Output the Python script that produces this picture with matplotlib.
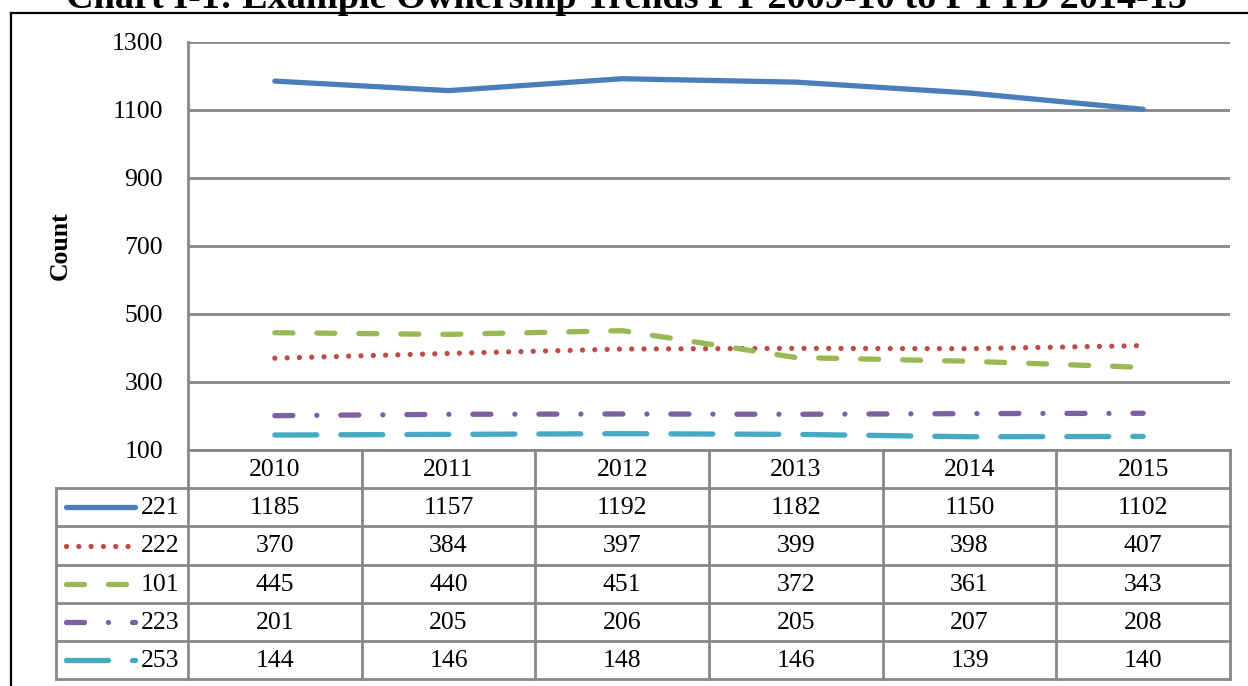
import matplotlib.pyplot as plt
from matplotlib.lines import Line2D

plt.rcParams['font.family'] = ['Liberation Serif', 'DejaVu Serif']

# data
years = ['2010', '2011', '2012', '2013', '2014', '2015']
series_names = ['221', '222', '101', '223', '253']
s221 = [1185, 1157, 1192, 1182, 1150, 1102]
s222 = [370, 384, 397, 399, 398, 407]
s101 = [445, 440, 451, 372, 361, 343]
s223 = [201, 205, 206, 205, 207, 208]
s253 = [144, 146, 148, 146, 139, 140]
all_series = [s221, s222, s101, s223, s253]

colors = ['#4A7EBB', '#BE4B48', '#98B954', '#7D60A0', '#46AAC5']
grid_col = '#888888'
LW = 3.8
lw_px = LW * 100 / 72
FS = 18.5


def pattern(px_list):
    # dash pattern given in pixels -> matplotlib units (scaled by lw)
    return (0, [p / lw_px for p in px_list])


styles = [
    '-',
    pattern([0.01, 12.3]),
    pattern([18.0, 24.0]),
    pattern([18.0, 24.0, 0.01, 24.0]),
    pattern([42.0, 24.0]),
]

W, H = 1248, 686


def fx(px):
    return px / W


def fy(py):
    return 1 - py / H


fig = plt.figure(figsize=(W / 100, H / 100), dpi=100)

# plot area
ax = fig.add_axes([fx(188), fy(450), fx(1230) - fx(188), fy(42) - fy(450)])
xs = list(range(1, len(years) + 1))
for vals, c, ls in zip(all_series, colors, styles):
    ax.plot(xs, vals, color=c, lw=LW, linestyle=ls,
            solid_capstyle='round', dash_capstyle='round', zorder=3)

ax.set_xlim(0.5, len(years) + 0.5)
ax.set_ylim(100, 1300)
ax.set_yticks(range(100, 1301, 200))
ax.set_xticks([])
ax.grid(axis='y', color=grid_col, lw=2)
for sp in ['top', 'right']:
    ax.spines[sp].set_visible(False)
ax.spines['left'].set_color(grid_col)
ax.spines['left'].set_linewidth(2)
ax.spines['bottom'].set_color(grid_col)
ax.spines['bottom'].set_linewidth(2)
ax.tick_params(axis='y', length=0, pad=18, labelsize=FS)

fig.text(fx(60), fy(246), 'Count', rotation=90, ha='center', va='center',
         fontsize=FS, fontweight='bold')

# data table
col_w = (1230 - 188) / len(years)


def xd(px):
    return 0.5 + (px - 188) / col_w


tax = fig.add_axes([fx(56), fy(679.3), fx(1230) - fx(56), fy(450) - fy(679.3)])
tax.set_xlim(xd(56), len(years) + 0.5)
tax.set_ylim(6, 0)
tax.axis('off')

tk = dict(color=grid_col, lw=2, clip_on=False, solid_capstyle='projecting')
for r in range(1, 7):
    tax.plot([xd(56), len(years) + 0.5], [r, r], **tk)
tax.plot([xd(56), xd(56)], [1, 6], **tk)
for i in range(len(years) + 1):
    tax.plot([i + 0.5, i + 0.5], [0, 6], **tk)

for i, y in enumerate(years):
    tax.text(i + 1, 0.52, y, ha='center', va='center', fontsize=FS)

for r, (name, vals, c, ls) in enumerate(zip(series_names, all_series, colors, styles)):
    yr = r + 1.5
    tax.plot([xd(65.5), xd(135)], [yr, yr], color=c, lw=LW, linestyle=ls,
             solid_capstyle='round', dash_capstyle='round', clip_on=False)
    tax.text(xd(179), yr + 0.02, name, ha='right', va='center', fontsize=FS)
    for i, v in enumerate(vals):
        tax.text(i + 1, yr + 0.02, str(v), ha='center', va='center', fontsize=FS)

# title (cut off at the top) and outer border
fig.text(fx(626.5), fy(7.5), 'Chart I-1: Example Ownership Trends FY 2009-10 to FYTD 2014-15',
         ha='center', va='baseline', fontsize=27.5, fontweight='bold')
fig.add_artist(Line2D([fx(11), fx(11)], [fy(13), 0], color='black', lw=1.6))
fig.add_artist(Line2D([fx(11), 1], [fy(13), fy(13)], color='black', lw=1.6))

fig.savefig('out.png', dpi=100)
